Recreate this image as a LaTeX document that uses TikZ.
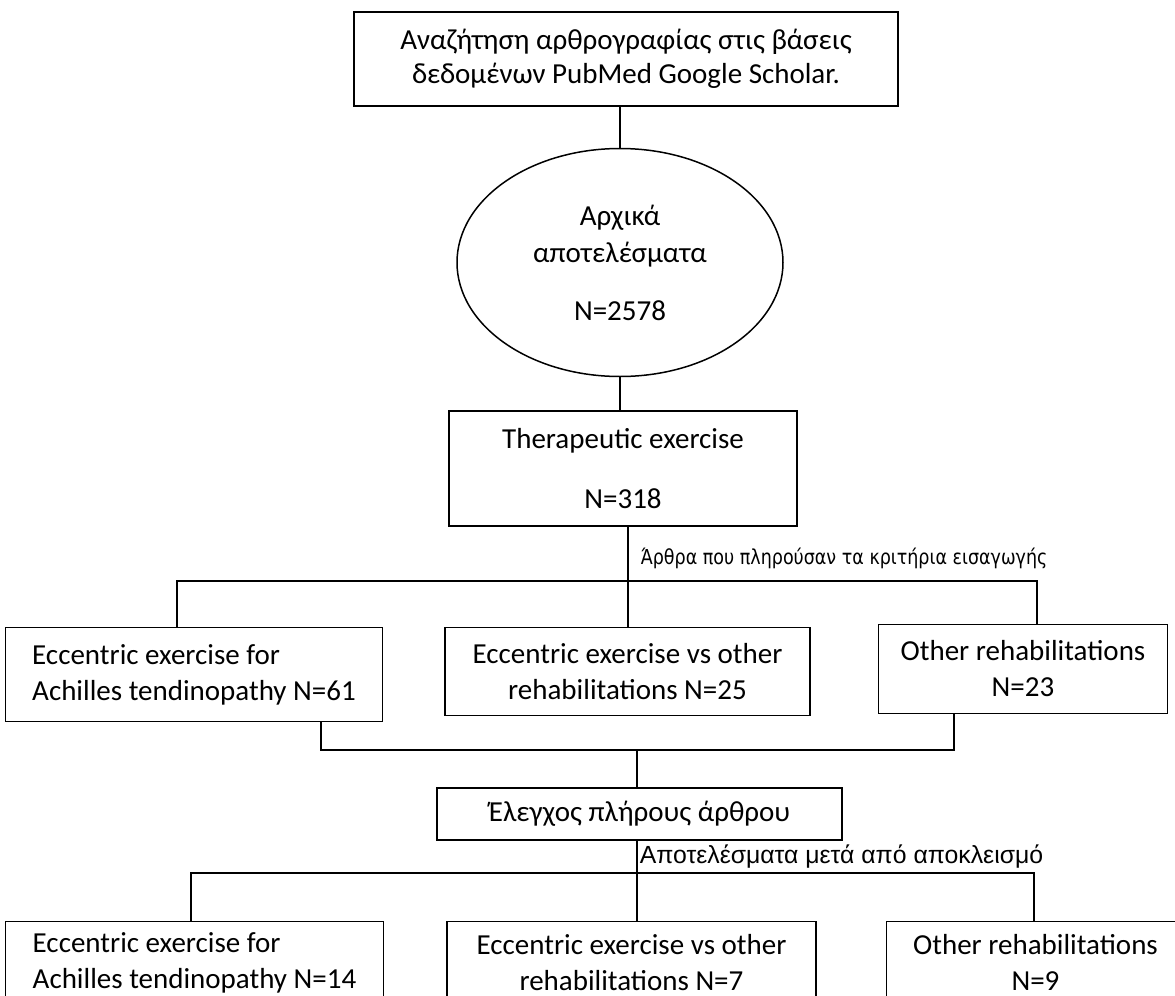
\documentclass[tikz,border=0pt]{standalone}
\usepackage{fontspec}
\setmainfont{Carlito}
\newfontfamily\notefont[FakeStretch=0.85]{DejaVu Sans}
\newfontfamily\narrowfont{Liberation Sans}
\usepackage{tikz}
\usetikzlibrary{shapes.geometric, positioning}

\begin{document}
\begin{tikzpicture}[x=1pt, y=1pt, line width=0.75pt,
    query/.style={rectangle, draw, minimum width=272pt, minimum height=47pt, font=\fontsize{14.5}{17}\selectfont, align=center},
    result/.style={ellipse, draw, minimum width=163pt, minimum height=114pt, font=\fontsize{14.5}{18.5}\selectfont, align=center},
    stage/.style={rectangle, draw, minimum width=174pt, minimum height=57.5pt, font=\fontsize{14.5}{17.5}\selectfont, align=center},
    group/.style={rectangle, draw, minimum height=44pt, font=\fontsize{14.5}{18}\selectfont, align=center},
    groupl/.style={group, align=left},
    note/.style={inner sep=0pt, anchor=west, font=\notefont\fontsize{10.3}{12}\selectfont},
    bignote/.style={inner sep=0pt, anchor=west, font=\narrowfont\fontsize{12.4}{15}\selectfont}]

    \path[use as bounding box, fill=white] (0,0) rectangle (587.5,-498);
    \clip (0,0) rectangle (587.5,-498);

    \node (search) [query] at (313,-29.5) {Αναζήτηση αρθρογραφίας στις βάσεις\\ δεδομένων PubMed Google Scholar.};
    \node (initial) [result, below=20.5pt of search, xshift=-3pt] {Αρχικά\\ αποτελέσματα\\[10.5pt] N=2578};
    \node (therex) [stage, below=16.5pt of initial, xshift=1.5pt] {Therapeutic exercise\\[12.5pt] N=318};

    \node (ecc1) [groupl, minimum width=188.5pt, minimum height=47pt, below left=50pt and 32.5pt of therex] {Eccentric exercise for\\ Achilles tendinopathy N=61};
    \node (vs1) [group, minimum width=182.5pt, below=50pt of therex, xshift=2.25pt] {Eccentric exercise vs other\\ rehabilitations N=25};
    \node (oth1) [group, minimum width=144.5pt, minimum height=44.5pt, below right=48.5pt and 40pt of therex] {Other rehabilitations\\ N=23};

    \node (check) [group, minimum width=202.5pt, minimum height=26pt, below=35.5pt of vs1, xshift=6pt] {Έλεγχος πλήρους άρθρου};

    \node (ecc2) [groupl, minimum width=189pt, minimum height=41pt, below left=40pt and 26pt of check] {Eccentric exercise for\\ Achilles tendinopathy N=14};
    \node (vs2) [group, minimum width=184.5pt, minimum height=41pt, below=40pt of check, xshift=-4pt] {Eccentric exercise vs other\\ rehabilitations N=7};
    \node (oth2) [group, minimum width=149pt, minimum height=41pt, below right=40pt and 21.5pt of check] {Other rehabilitations\\ N=9};

    \coordinate (split1) at (314,-290.5);
    \coordinate (bus1l) at (88.5,-290.5);
    \coordinate (bus1r) at (518.5,-290.5);
    \coordinate (merge) at (318.5,-375);
    \coordinate (mergel) at (160.5,-375);
    \coordinate (merger) at (477,-375);
    \coordinate (split2) at (318.5,-436.5);
    \coordinate (bus2l) at (95.5,-436.5);
    \coordinate (bus2r) at (517,-436.5);

    \draw (initial.north |- search.south) -- (initial.north);
    \draw (initial.south) -- (initial.south |- therex.north);
    \draw (therex.south -| split1) -- (split1 |- vs1.north);
    \draw (bus1l |- ecc1.north) -- (bus1l) -- (bus1r) -- (bus1r |- oth1.north);
    \draw (mergel |- ecc1.south) -- (mergel) -- (merger) -- (merger |- oth1.south);
    \draw (merge) -- (merge |- check.north);
    \draw (check.south -| split2) -- (split2 |- vs2.north);
    \draw (bus2l |- ecc2.north) -- (bus2l) -- (bus2r) -- (bus2r |- oth2.north);

    \node (inclnote) [note] at (320,-279) {Άρθρα που πληρούσαν τα κριτήρια εισαγωγής};
    \node (exclnote) [bignote] at (319.5,-428.5) {Αποτελέσματα μετά από αποκλεισμό};

\end{tikzpicture}
\end{document}
